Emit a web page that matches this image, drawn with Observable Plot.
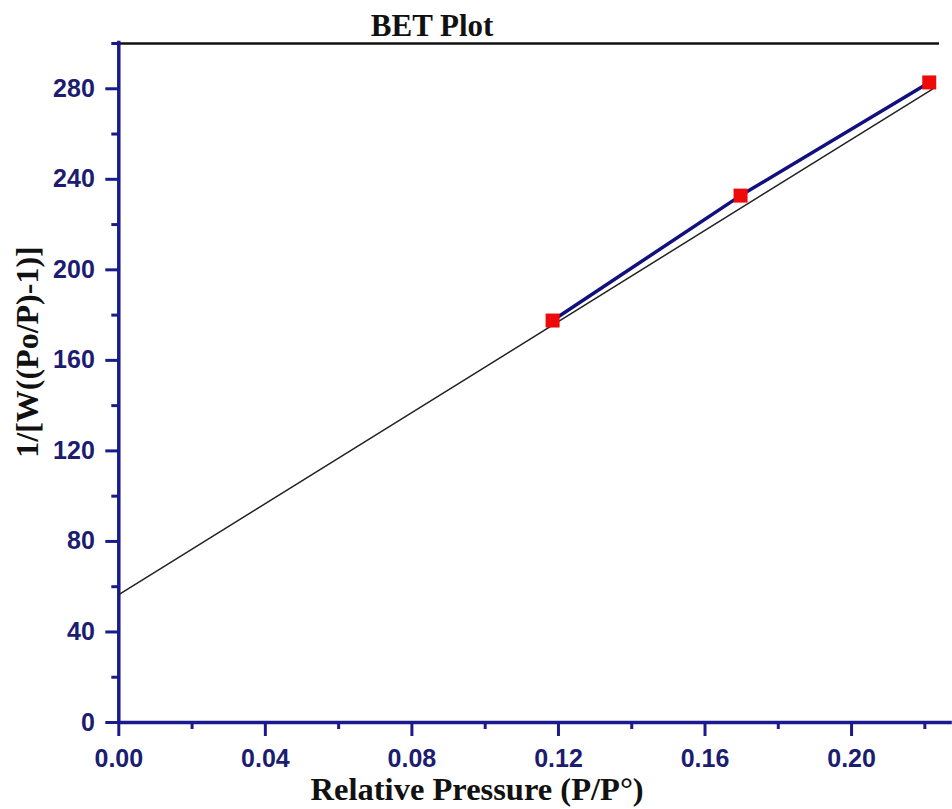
<!DOCTYPE html>
<html>
<head>
<meta charset="utf-8">
<script src="https://cdn.jsdelivr.net/npm/d3@7"></script>
<script src="https://cdn.jsdelivr.net/npm/@observablehq/plot@0.6"></script>
<style>
  html, body { margin: 0; padding: 0; background: #fff; }
  #chart svg { display: block; }
</style>
</head>
<body>
<div id="chart"></div>
<script>
// Data
const pressure = [0.1184, 0.1697, 0.2212];        // P/P°
const betValue = [177.6, 232.8, 282.8];           // 1/[W((Po/P)-1)]
const fitPressure = [0, 0.2222];                  // linear fit end points
const fitValue = [56.5, 280];
const xTicks = [0, 0.04, 0.08, 0.12, 0.16, 0.20];
const xMinorTicks = [0.02, 0.06, 0.10, 0.14, 0.18, 0.22];
const yTicks = [0, 40, 80, 120, 160, 200, 240, 280];
const yMinorTicks = [20, 60, 100, 140, 180, 220, 260, 300];
const xDomain = [0, 0.224];
const yDomain = [0, 300];
const xAxisEnd = 0.2275;
const titleText = "BET Plot";
const xLabel = "Relative Pressure (P/P°)";
const yLabel = "1/[W((Po/P)-1)]";

const points = pressure.map((p, i) => ({p, v: betValue[i]}));
const fit = fitPressure.map((p, i) => ({p, v: fitValue[i]}));

const navy = "#1a1a8c";
const navyText = "#1c1c70";
const serif = "'Liberation Serif', 'Times New Roman', serif";
const sans = "'Liberation Sans', Arial, sans-serif";

const chart = Plot.plot({
  width: 952,
  height: 809,
  marginLeft: 118.3,
  marginRight: 13,
  marginTop: 43,
  marginBottom: 87,
  style: {background: "#fff", overflow: "visible"},
  x: {domain: xDomain},
  y: {domain: yDomain},
  marks: [
    // minor ticks
    Plot.axisX({ticks: xMinorTicks, tickSize: 7, text: null, stroke: navy, strokeWidth: 3, label: null}),
    Plot.axisY({ticks: yMinorTicks, tickSize: 7, text: null, stroke: navy, strokeWidth: 3, label: null}),
    // major ticks with labels
    Plot.axisX({ticks: xTicks, tickSize: 14, tickPadding: 13, tickFormat: d3.format(".2f"),
      stroke: navy, fill: navyText, strokeWidth: 3, fontSize: 25, fontWeight: "bold",
      fontFamily: sans, label: null}),
    Plot.axisY({ticks: yTicks, tickSize: 13, tickPadding: 11, tickFormat: d3.format("d"),
      stroke: navy, fill: navyText, strokeWidth: 3, fontSize: 25, fontWeight: "bold",
      fontFamily: sans, label: null}),
    // top border
    Plot.ruleY([yDomain[1]], {x1: xDomain[0], x2: xDomain[1], stroke: "#111", strokeWidth: 2.5}),
    // axis lines
    Plot.ruleX([0], {y1: 0, y2: 301, stroke: navy, strokeWidth: 3.5}),
    Plot.ruleY([0], {x1: 0, x2: xAxisEnd, stroke: navy, strokeWidth: 3.5}),
    // linear fit
    Plot.line(fit, {x: "p", y: "v", stroke: "#222", strokeWidth: 1.5}),
    // data line
    Plot.line(points, {x: "p", y: "v", stroke: "#10107e", strokeWidth: 3.5}),
    // markers
    Plot.dot(points, {x: "p", y: "v", symbol: "square", r: 7.9, fill: "#ee0a0a", stroke: null}),
    // title and axis labels
    Plot.text([titleText], {frameAnchor: "top", textAnchor: "middle", lineAnchor: "bottom",
      dx: -97, dy: -8, fontSize: 31, fontWeight: "bold", fontFamily: serif, fill: "#111"}),
    Plot.text([xLabel], {frameAnchor: "bottom", textAnchor: "middle", lineAnchor: "bottom",
      dx: -52, dy: 77, fontSize: 32.5, fontWeight: "bold", fontFamily: serif, fill: "#111"}),
    Plot.text([yLabel], {frameAnchor: "left", textAnchor: "middle", lineAnchor: "bottom",
      rotate: -90, dx: -81, dy: -31, fontSize: 32, fontWeight: "bold", fontFamily: serif, fill: "#111"})
  ]
});
document.getElementById("chart").appendChild(chart);
</script>
</body>
</html>
